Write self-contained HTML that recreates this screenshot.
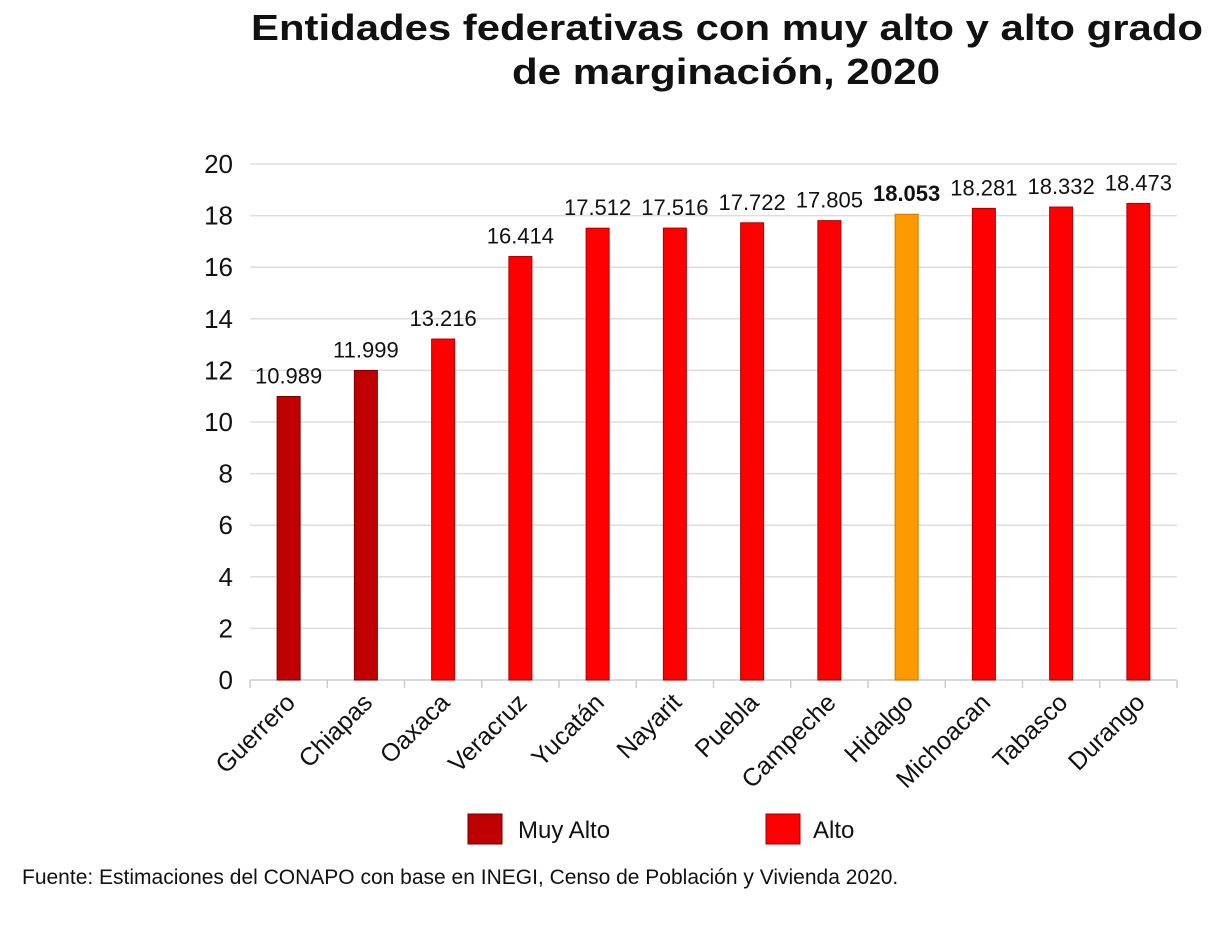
<!DOCTYPE html>
<html><head><meta charset="utf-8"><style>
body{margin:0;background:#fff;width:1221px;height:924px;overflow:hidden;font-family:"Liberation Sans",sans-serif}
</style></head><body>
<svg width="1221" height="924" id="chart" style="font-family:'Liberation Sans',sans-serif">
<text x="251" y="40" textLength="952" lengthAdjust="spacingAndGlyphs" font-size="36" font-weight="bold" fill="#111">Entidades federativas con muy alto y alto grado</text>
<text x="512" y="84" textLength="428" lengthAdjust="spacingAndGlyphs" font-size="36" font-weight="bold" fill="#111">de marginación, 2020</text>
<g id="grid"></g><g id="bars"></g><g id="labels"></g>
<g>
<rect x="468" y="814" width="34" height="30" fill="#c00000" stroke="#600"/>
<text x="518" y="838" font-size="24" fill="#111">Muy Alto</text>
<rect x="766" y="814" width="34" height="30" fill="#ff0000" stroke="#900"/>
<text x="813" y="838" font-size="24" fill="#111">Alto</text>
</g>
<text x="22" y="884" font-size="21" fill="#111">Fuente: Estimaciones del CONAPO con base en INEGI, Censo de Población y Vivienda 2020.</text>
</svg>
<script>
const categories=["Guerrero","Chiapas","Oaxaca","Veracruz","Yucatán","Nayarit","Puebla","Campeche","Hidalgo","Michoacan","Tabasco","Durango"];
const values=[10.989,11.999,13.216,16.414,17.512,17.516,17.722,17.805,18.053,18.281,18.332,18.473];
const groups=["muy","muy","alto","alto","alto","alto","alto","alto","hidalgo","alto","alto","alto"];
const ticks=[0,2,4,6,8,10,12,14,16,18,20];
const NS="http://www.w3.org/2000/svg";
const x0=250,x1=1177,yb=680,yt=164,ymax=20;
const bw=(x1-x0)/categories.length;
const y=v=>yb-(v/ymax)*(yb-yt);
const xc=i=>x0+bw*(i+0.5);
function mk(t,a,p){const e=document.createElementNS(NS,t);for(const k in a)e.setAttribute(k,a[k]);p.appendChild(e);return e;}
const g=document.getElementById('grid'),b=document.getElementById('bars'),l=document.getElementById('labels');
ticks.forEach(t=>{
 const ln=mk('line',{x1:x0,x2:x1,y1:y(t),y2:y(t),stroke:t===0?'#ccc':'#ddd','stroke-width':1.5},g);
 
 
 const tx=mk('text',{x:233,y:y(t)+9,'text-anchor':'end','font-size':26,fill:'#111'},g);
 tx.textContent=t;
 
 
});
for(let i=0;i<=categories.length;i++){
 const tk=mk('line',{x1:x0+bw*i,x2:x0+bw*i,y1:yb,y2:yb+8,stroke:'#ccc','stroke-width':1.5},g);
 
 
}
const fills={muy:'#c00000',alto:'#ff0000',hidalgo:'#ff9900'};
const strokes={muy:'#700',alto:'#a00',hidalgo:'#c70'};
categories.forEach((c,i)=>{
 const r=mk('rect',{x:xc(i)-11.5,y:y(values[i]),width:23,height:yb-y(values[i]),fill:fills[groups[i]],stroke:strokes[groups[i]],'stroke-width':1},b);
 
 
 const v=mk('text',{x:xc(i),y:y(values[i])-13,'text-anchor':'middle','font-size':22,fill:'#111','font-weight':groups[i]==='hidalgo'?'bold':'normal'},l);
 v.textContent=values[i].toFixed(3);
 
 
 const cx=xc(i)+8,cy=yb+24;
 const t=mk('text',{x:cx,y:cy,'text-anchor':'end','font-size':25,fill:'#111',transform:`rotate(-45 ${cx} ${cy})`},l);
 t.textContent=c;
 
 
});
</script>
</body></html>
